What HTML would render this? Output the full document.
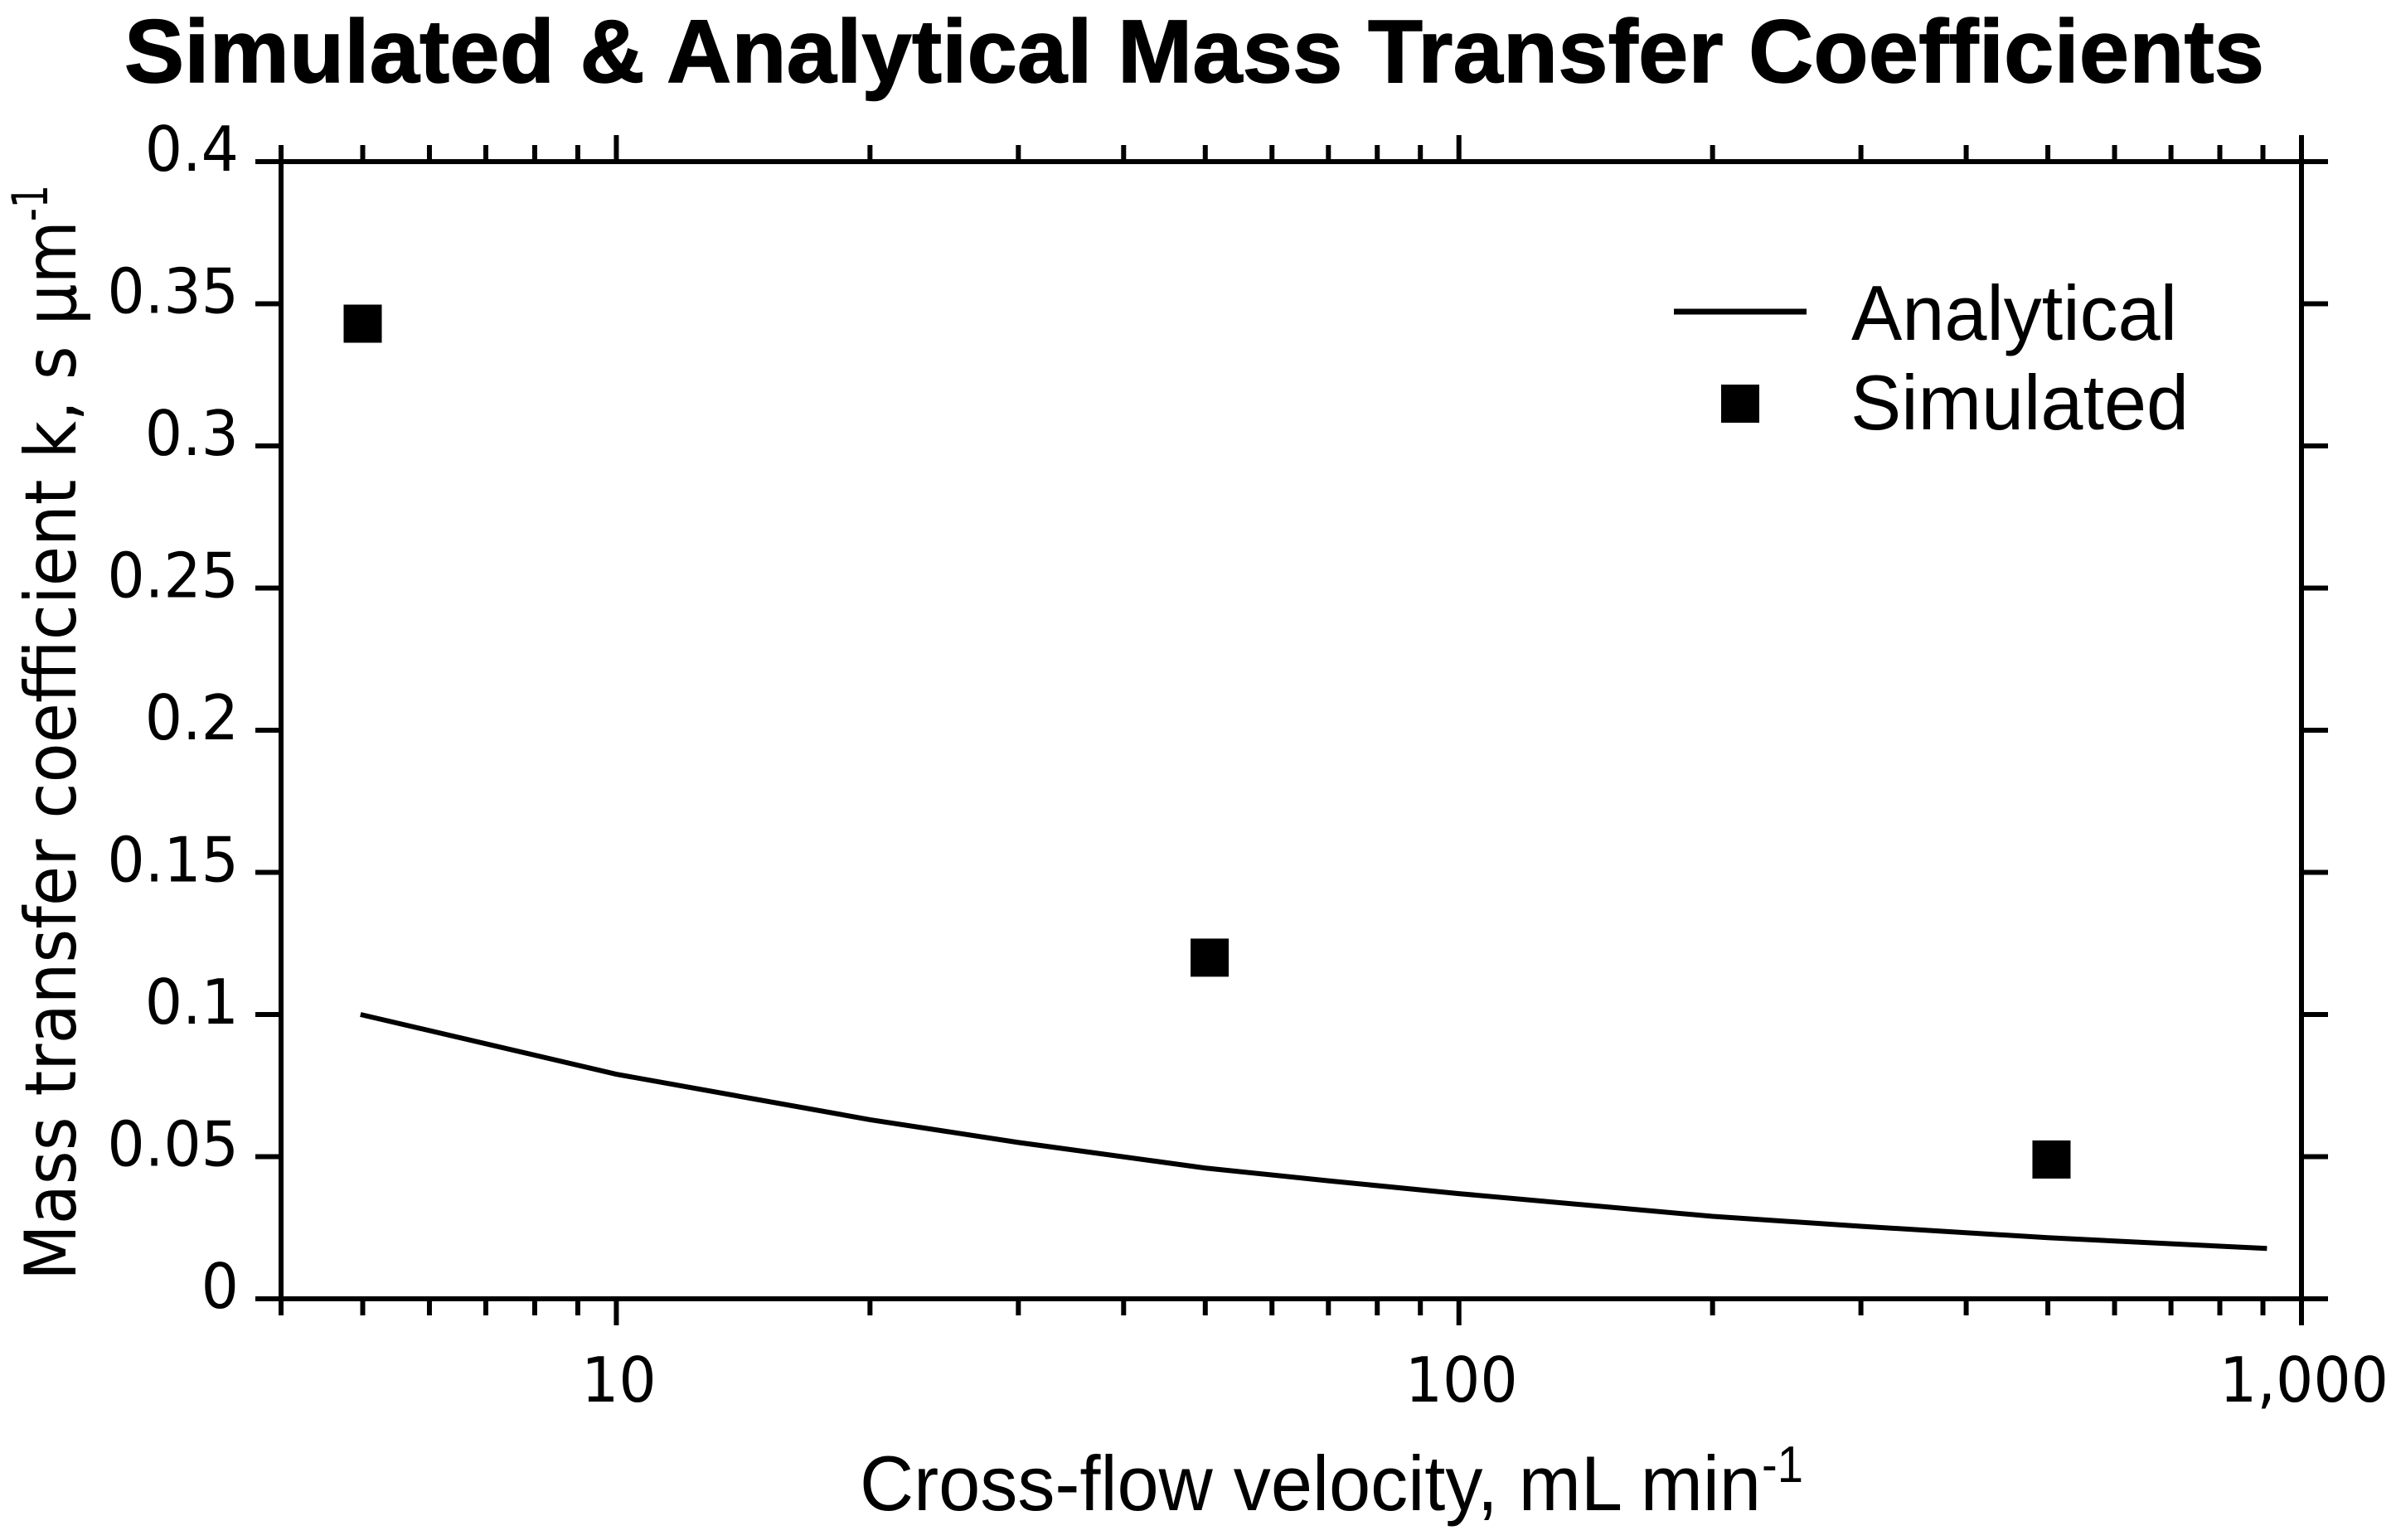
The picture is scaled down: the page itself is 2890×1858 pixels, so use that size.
<!DOCTYPE html>
<html lang="en">
<head>
<meta charset="utf-8">
<title>Simulated &amp; Analytical Mass Transfer Coefficients</title>
<style>
html,body{margin:0;padding:0;background:#fff;width:2890px;height:1858px;overflow:hidden}
svg{display:block}
.dj{font-family:"DejaVu Sans",sans-serif;fill:#000}
.lib{font-family:"Liberation Sans",Arial,sans-serif;fill:#000}
</style>
</head>
<body>
<svg id="chart" xmlns="http://www.w3.org/2000/svg" width="2890" height="1858" viewBox="0 0 2890 1858">
  <rect x="0" y="0" width="2890" height="1858" fill="#fff"/>
  <text class="lib" x="150" y="99" font-size="108" font-weight="700" stroke="#000" stroke-width="1.5" textLength="2581" lengthAdjust="spacing">Simulated &amp; Analytical Mass Transfer Coefficients</text>
  <g id="ticks"></g>
  <g id="tick-labels"></g>
  <rect x="339" y="195" width="2437" height="1372" fill="none" stroke="#000" stroke-width="6"/>
  <g id="series"></g>
  <g transform="translate(91,1545) rotate(-90)">
    <text class="dj" x="0" y="0" font-size="86" textLength="1279" lengthAdjust="spacingAndGlyphs">Mass transfer coefficient k, s µm</text>
    <text class="dj" x="1278" y="-34" font-size="60" textLength="44" lengthAdjust="spacingAndGlyphs">-1</text>
  </g>
  <text class="lib" x="1037" y="1822" font-size="94" textLength="1087" lengthAdjust="spacingAndGlyphs">Cross-flow velocity, mL min</text>
  <text class="lib" x="2125" y="1788" font-size="62" textLength="50" lengthAdjust="spacingAndGlyphs">-1</text>
  <g>
    <line x1="2019" y1="376" x2="2179" y2="376" stroke="#000" stroke-width="7"/>
    <text class="lib" x="2233" y="410" font-size="94" textLength="393" lengthAdjust="spacingAndGlyphs">Analytical</text>
    <rect x="2076" y="464" width="46" height="46" fill="#000"/>
    <text class="lib" x="2232" y="518" font-size="94" textLength="408" lengthAdjust="spacingAndGlyphs">Simulated</text>
  </g>
</svg>
<script>
const xMajorTicks = [10, 100, 1000];
const xMinorTicks = [4, 5, 6, 7, 8, 9, 20, 30, 40, 50, 60, 70, 80, 90, 200, 300, 400, 500, 600, 700, 800, 900];
const xTickLabels = ['10', '100', '1,000'];
const yTicks = [0, 0.05, 0.1, 0.15, 0.2, 0.25, 0.3, 0.35, 0.4];
const yTickLabels = ['0', '0.05', '0.1', '0.15', '0.2', '0.25', '0.3', '0.35', '0.4'];
const analyticalX = [4.97, 10, 20, 30, 50, 70, 100, 200, 300, 500, 910];
const analyticalY = [0.1, 0.079, 0.063, 0.055, 0.046, 0.0415, 0.037, 0.029, 0.0255, 0.0215, 0.0177];
const simulatedX = [5, 50.6, 505];
const simulatedY = [0.343, 0.12, 0.049];

const SVG_NS = 'http://www.w3.org/2000/svg';
const plotLeft = 339, plotRight = 2776, plotTop = 195, plotBottom = 1567;
const xMin = 4, xMax = 1000, yMin = 0, yMax = 0.4;

function xScale(v) {
  return plotLeft + (Math.log10(v) - Math.log10(xMin)) / (Math.log10(xMax) - Math.log10(xMin)) * (plotRight - plotLeft);
}
function yScale(v) {
  return plotBottom - (v - yMin) / (yMax - yMin) * (plotBottom - plotTop);
}
function makeLine(parent, x1, y1, x2, y2) {
  const el = document.createElementNS(SVG_NS, 'line');
  el.setAttribute('x1', x1);
  el.setAttribute('y1', y1);
  el.setAttribute('x2', x2);
  el.setAttribute('y2', y2);
  el.setAttribute('stroke', '#000');
  el.setAttribute('stroke-width', '6');
  parent.appendChild(el);
  return el;
}
function makeLabel(parent, x, y, anchor, str) {
  const el = document.createElementNS(SVG_NS, 'text');
  el.setAttribute('class', 'dj');
  el.setAttribute('font-size', '75');
  el.setAttribute('text-anchor', anchor);
  el.setAttribute('transform', 'translate(' + x + ',' + y + ') scale(0.95,1)');
  el.textContent = str;
  parent.appendChild(el);
  return el;
}

const tickLayer = document.getElementById('ticks');
const labelLayer = document.getElementById('tick-labels');
const seriesLayer = document.getElementById('series');

xMinorTicks.forEach(function (v) {
  const px = xScale(v);
  const b = makeLine(tickLayer, px, plotBottom, px, 1587);
  
  
  const t = makeLine(tickLayer, px, plotTop, px, 175);
  
  
});
xMajorTicks.forEach(function (v, i) {
  const px = xScale(v);
  const b = makeLine(tickLayer, px, plotBottom, px, 1599);
  
  
  const t = makeLine(tickLayer, px, plotTop, px, 163);
  
  
  const l = makeLabel(labelLayer, px + 3, 1691, 'middle', xTickLabels[i]);
  
  
});
yTicks.forEach(function (v, i) {
  const py = yScale(v);
  const a = makeLine(tickLayer, 308, py, plotLeft, py);
  
  
  const c = makeLine(tickLayer, plotRight, py, 2808, py);
  
  
  const l = makeLabel(labelLayer, 288, py + 11, 'end', yTickLabels[i]);
  
  
});

const analyticalLine = document.createElementNS(SVG_NS, 'polyline');


analyticalLine.setAttribute('fill', 'none');
analyticalLine.setAttribute('stroke', '#000');
analyticalLine.setAttribute('stroke-width', '6');
analyticalLine.setAttribute('points', analyticalX.map(function (v, i) {
  return xScale(v) + ',' + yScale(analyticalY[i]);
}).join(' '));
seriesLayer.appendChild(analyticalLine);

simulatedX.forEach(function (v, i) {
  const m = document.createElementNS(SVG_NS, 'rect');
  
  
  m.setAttribute('x', xScale(v) - 23);
  m.setAttribute('y', yScale(simulatedY[i]) - 23);
  m.setAttribute('width', '46');
  m.setAttribute('height', '46');
  m.setAttribute('fill', '#000');
  seriesLayer.appendChild(m);
});
</script>
</body>
</html>
